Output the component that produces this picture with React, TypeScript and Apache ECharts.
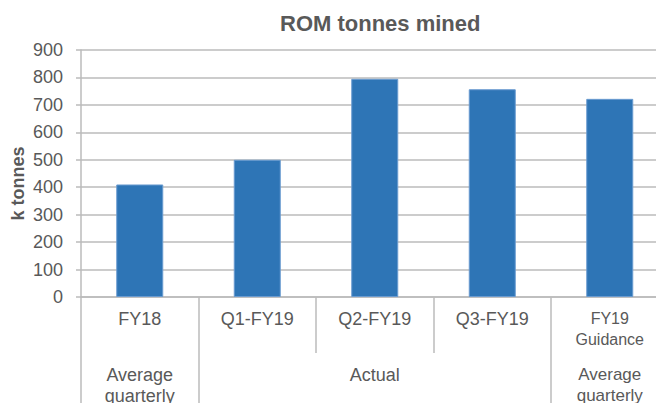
import React, { useEffect, useRef } from "react";
import * as echarts from "echarts";

const categories = ["FY18", "Q1-FY19", "Q2-FY19", "Q3-FY19", "FY19\nGuidance"];
const values = [410, 500, 795, 757, 722];
const groupLabels = ["Average\nquarterly", "", "Actual", "", "Average\nquarterly"];
const groupBoundaries = [0, 1, 4];
const smallLabelIndex = 4;
const yMin = 0;
const yMax = 900;
const yInterval = 100;

const TEXT = "#595959";
const GRID = "#BBBBBB";
const FONT = "Liberation Sans, Arial, sans-serif";

const small = (s: string) =>
  s
    .split("\n")
    .map((l) => `{s|${l}}`)
    .join("\n");

export default function App() {
  const ref = useRef<HTMLDivElement>(null);
  useEffect(() => {
    if (!ref.current) return;
    const chart = echarts.init(ref.current, undefined, { renderer: "svg" });
    const rich = { s: { fontSize: 16, lineHeight: 21, color: TEXT, fontFamily: FONT } };
    chart.setOption({
      animation: false,
      textStyle: { fontFamily: FONT, color: TEXT },
      title: {
        text: "ROM tonnes mined",
        left: 280,
        top: 12,
        padding: 0,
        textStyle: { fontFamily: FONT, fontSize: 22, fontWeight: "bold", color: TEXT },
      },
      grid: {
        left: 81,
        right: 11.5,
        top: 50,
        bottom: 153,
        containLabel: false,
        outerBoundsMode: "none",
      },
      xAxis: [
        {
          type: "category",
          data: categories,
          position: "bottom",
          axisLine: { show: true, lineStyle: { color: GRID, width: 1.5 } },
          axisTick: { show: true, length: 56, interval: 0, lineStyle: { color: GRID, width: 1.5 } },
          axisLabel: {
            interval: 0,
            margin: 11,
            fontSize: 18,
            lineHeight: 21,
            color: TEXT,
            fontFamily: FONT,
            rich,
            formatter: (v: string, i: number) => (i === smallLabelIndex ? small(v) : v),
          },
        },
        {
          type: "category",
          data: groupLabels.map((_, i) => String(i)),
          position: "bottom",
          offset: 56,
          axisLine: { show: false },
          axisTick: {
            show: true,
            length: 60,
            interval: (index: number) => groupBoundaries.indexOf(index) >= 0,
            lineStyle: { color: GRID, width: 1.5 },
          },
          axisLabel: {
            interval: 0,
            margin: 11,
            fontSize: 18,
            lineHeight: 21,
            color: TEXT,
            fontFamily: FONT,
            rich: { s: { fontSize: 17, lineHeight: 21, color: TEXT, fontFamily: FONT } },
            formatter: (_v: string, i: number) =>
              i === smallLabelIndex ? small(groupLabels[i]) : groupLabels[i],
          },
        },
      ],
      yAxis: {
        type: "value",
        min: yMin,
        max: yMax,
        interval: yInterval,
        name: "k tonnes",
        nameLocation: "middle",
        nameGap: 54,
        nameMoveOverlap: false,
        nameTextStyle: {
          fontFamily: FONT,
          fontSize: 18,
          fontWeight: "bold",
          color: TEXT,
          padding: [0, 20, 0, 0],
        },
        axisLine: { show: true, lineStyle: { color: GRID, width: 1.5 } },
        axisTick: { show: true, length: 5, lineStyle: { color: GRID, width: 1.5 } },
        splitLine: { show: true, lineStyle: { color: GRID, width: 1.5 } },
        axisLabel: { fontSize: 18, color: TEXT, margin: 18, fontFamily: FONT },
      },
      series: [
        {
          type: "bar",
          data: values,
          xAxisIndex: 0,
          barWidth: "40%",
          itemStyle: { color: "#2E75B6", borderColor: "#6A9BD0", borderWidth: 1 },
        },
      ],
    });
    return () => chart.dispose();
  }, []);
  return (
    <div
      style={{
        position: "fixed",
        left: 0,
        top: 0,
        width: 656,
        height: 403,
        overflow: "hidden",
        background: "#fff",
      }}
    >
      <div ref={ref} style={{ width: 680, height: 450 }} />
    </div>
  );
}
